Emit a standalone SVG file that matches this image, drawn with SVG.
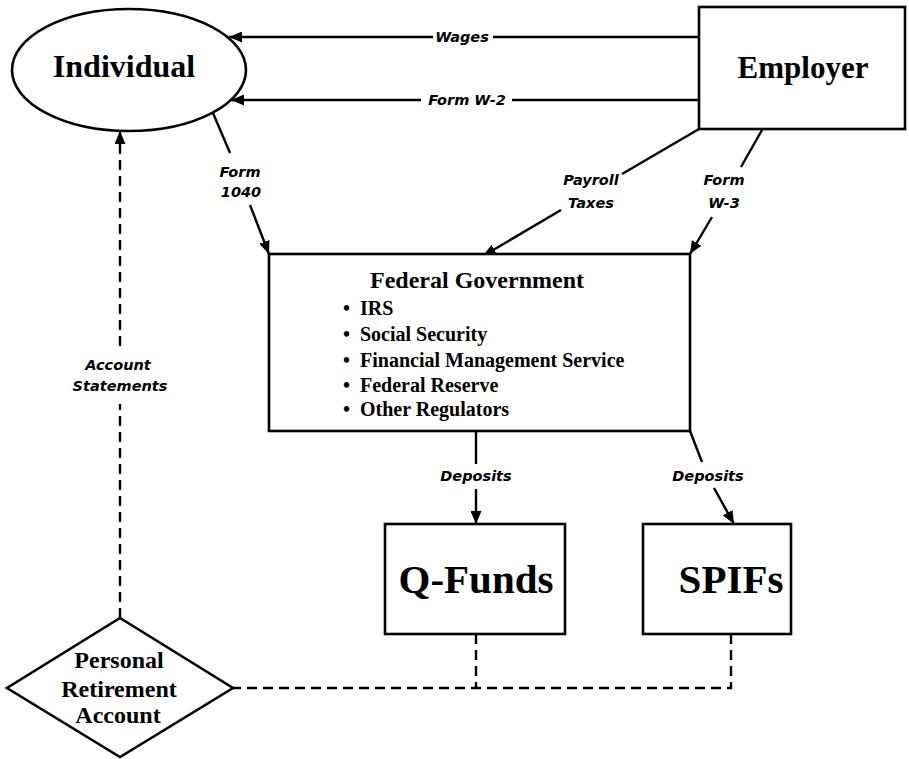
<svg xmlns="http://www.w3.org/2000/svg" width="909" height="759" viewBox="0 0 909 759">
  <style>
    .shape { fill: #fff; stroke: #000; stroke-width: 2.6; }
    .line { fill: none; stroke: #000; stroke-width: 2.4; }
    .dash { fill: none; stroke: #000; stroke-width: 2.4; stroke-dasharray: 10 6; }
    .node { font-family: "Liberation Serif", "Times New Roman", serif; font-weight: bold; fill: #000; text-anchor: middle; }
    .item { font-family: "Liberation Serif", "Times New Roman", serif; font-weight: bold; font-size: 20px; fill: #000; }
    .lbl { font-family: "DejaVu Sans", "Liberation Sans", sans-serif; font-weight: bold; font-style: italic; font-size: 14.5px; fill: #000; text-anchor: middle; }
  </style>
  <defs>
    <marker id="arrow" markerUnits="userSpaceOnUse" markerWidth="13" markerHeight="11" refX="13" refY="5.5" orient="auto">
      <path d="M0,0 L13,5.5 L0,11 z" fill="#000"/>
    </marker>
  </defs>
  <rect width="909" height="759" fill="#fff"/>

  <!-- connectors -->
  <g id="connectors">
    <!-- Employer to Individual: Wages -->
    <line class="line" x1="699" y1="37" x2="493" y2="37"/>
    <line class="line" x1="433" y1="37" x2="229" y2="37" marker-end="url(#arrow)"/>
    <text class="lbl" x="462" y="42">Wages</text>
    <!-- Employer to Individual: Form W-2 -->
    <line class="line" x1="699" y1="100" x2="512" y2="100"/>
    <line class="line" x1="421" y1="100" x2="231" y2="100" marker-end="url(#arrow)"/>
    <text class="lbl" x="467" y="105">Form W-2</text>
    <!-- Individual to Federal Government: Form 1040 -->
    <line class="line" x1="213" y1="113" x2="230" y2="153"/>
    <line class="line" x1="250" y1="205" x2="269" y2="254" marker-end="url(#arrow)"/>
    <text class="lbl" x="240" y="177">Form</text>
    <text class="lbl" x="241" y="197">1040</text>
    <!-- Employer to Federal Government: Payroll Taxes -->
    <line class="line" x1="699" y1="129" x2="622" y2="174"/>
    <line class="line" x1="561" y1="210" x2="483" y2="256" marker-end="url(#arrow)"/>
    <text class="lbl" x="591" y="185">Payroll</text>
    <text class="lbl" x="591" y="208">Taxes</text>
    <!-- Employer to Federal Government: Form W-3 -->
    <line class="line" x1="762" y1="130" x2="741" y2="167"/>
    <line class="line" x1="712" y1="217" x2="690" y2="254" marker-end="url(#arrow)"/>
    <text class="lbl" x="724" y="185">Form</text>
    <text class="lbl" x="724" y="208">W-3</text>
    <!-- Federal Government to Q-Funds: Deposits -->
    <line class="line" x1="476" y1="431" x2="476" y2="464"/>
    <line class="line" x1="476" y1="489" x2="476" y2="524" marker-end="url(#arrow)"/>
    <text class="lbl" x="476" y="481">Deposits</text>
    <!-- Federal Government to SPIFs: Deposits -->
    <line class="line" x1="690" y1="431" x2="702" y2="462"/>
    <line class="line" x1="714" y1="488" x2="734" y2="524" marker-end="url(#arrow)"/>
    <text class="lbl" x="708" y="481">Deposits</text>
    <!-- Personal Retirement Account to Individual: Account Statements -->
    <line class="dash" x1="120" y1="618" x2="120" y2="404"/>
    <line class="dash" x1="120" y1="346" x2="120" y2="131" marker-end="url(#arrow)"/>
    <text class="lbl" x="118" y="370">Account</text>
    <text class="lbl" x="120" y="391">Statements</text>
    <!-- Funds to Personal Retirement Account -->
    <path class="dash" d="M476,634 V688"/>
    <path class="dash" d="M731,634 V688 H233"/>
  </g>

  <!-- nodes -->
  <g id="individual">
    <ellipse class="shape" cx="129" cy="70" rx="117" ry="61"/>
    <text class="node" x="124" y="77" font-size="32">Individual</text>
  </g>
  <g id="employer">
    <rect class="shape" x="699" y="7" width="206" height="122"/>
    <text class="node" x="803" y="78" font-size="31">Employer</text>
  </g>
  <g id="federal-government">
    <rect class="shape" x="269" y="254" width="421" height="177"/>
    <text class="node" x="477" y="288" font-size="24">Federal Government</text>
    <text class="item" x="343" y="315">•<tspan x="360">IRS</tspan></text>
    <text class="item" x="343" y="341">•<tspan x="360">Social Security</tspan></text>
    <text class="item" x="343" y="367">•<tspan x="360">Financial Management Service</tspan></text>
    <text class="item" x="343" y="392">•<tspan x="360">Federal Reserve</tspan></text>
    <text class="item" x="343" y="416">•<tspan x="360">Other Regulators</tspan></text>
  </g>
  <g id="q-funds">
    <rect class="shape" x="385" y="524" width="180" height="110"/>
    <text class="node" x="476" y="593" font-size="41">Q-Funds</text>
  </g>
  <g id="spifs">
    <rect class="shape" x="643" y="524" width="148" height="110"/>
    <text class="node" x="731" y="593" font-size="41">SPIFs</text>
  </g>
  <g id="personal-retirement-account">
    <polygon class="shape" points="120,618 233,688 120,757 7,688"/>
    <text class="node" x="119" y="668" font-size="24">Personal</text>
    <text class="node" x="119" y="697" font-size="24">Retirement</text>
    <text class="node" x="118" y="723" font-size="24">Account</text>
  </g>
</svg>
